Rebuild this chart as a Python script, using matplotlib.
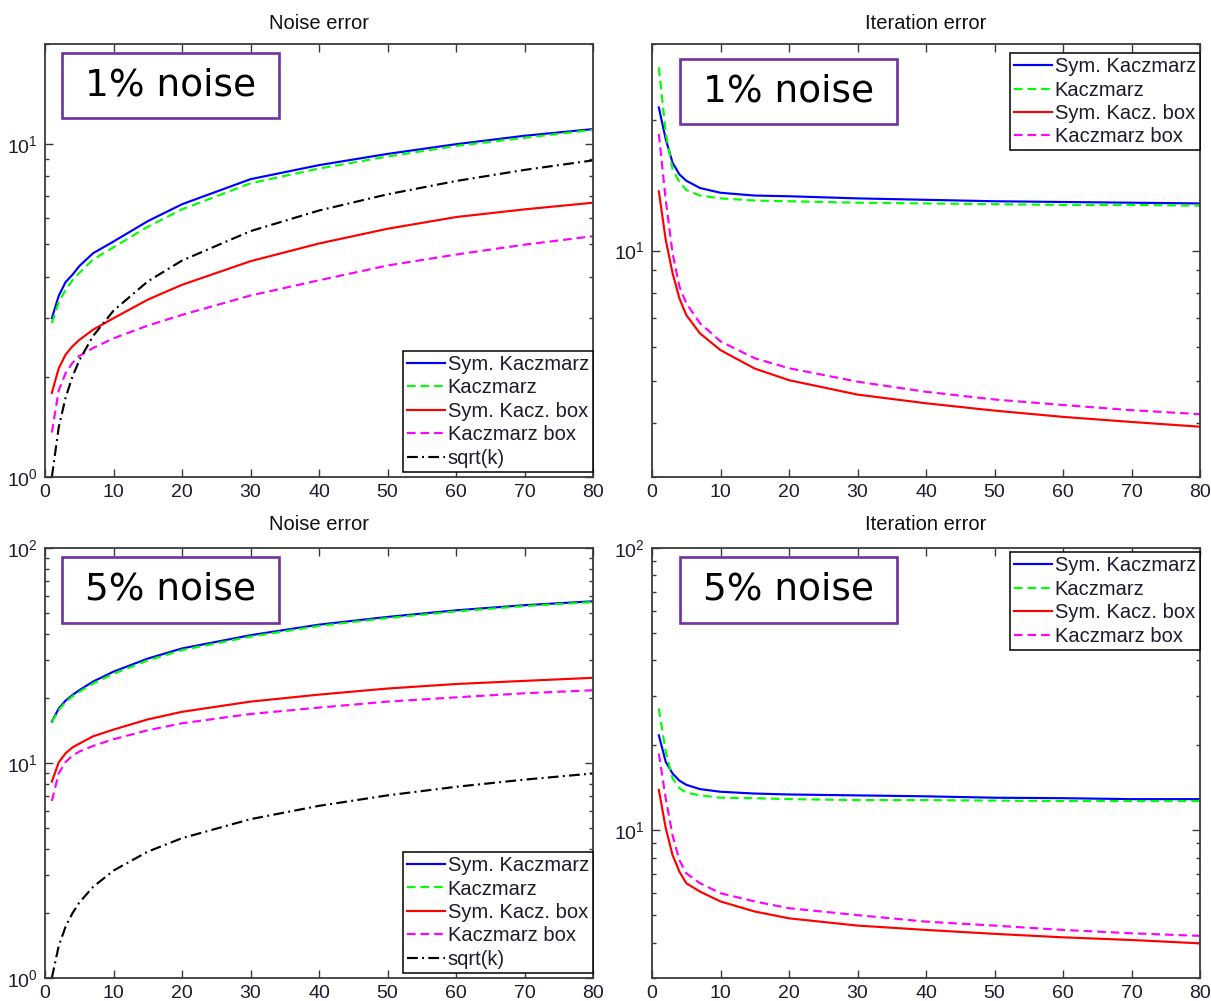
import matplotlib
matplotlib.use('Agg')
import matplotlib.pyplot as plt
from matplotlib.ticker import LogLocator, NullFormatter
from matplotlib.patches import Rectangle

plt.rcParams['font.family'] = ['Liberation Sans', 'DejaVu Sans']
plt.rcParams['mathtext.fontset'] = 'custom'
plt.rcParams['mathtext.rm'] = 'Liberation Sans'

# ---------------- data ----------------
k = [1, 2, 3, 4, 5, 7, 10, 15, 20, 30, 40, 50, 60, 70, 80]

# 1% noise, noise error
n1_sym = [3.0, 3.5, 3.85, 4.05, 4.3, 4.7, 5.1, 5.87, 6.6, 7.85, 8.65, 9.35, 10.0, 10.6, 11.1]
n1_kac = [2.9, 3.35, 3.65, 3.9, 4.1, 4.5, 4.9, 5.65, 6.37, 7.63, 8.45, 9.18, 9.88, 10.45, 11.04]
n1_symbox = [1.79, 2.12, 2.33, 2.47, 2.58, 2.77, 3.0, 3.41, 3.78, 4.45, 5.03, 5.57, 6.04, 6.37, 6.67]
n1_kacbox = [1.36, 1.82, 2.05, 2.2, 2.31, 2.44, 2.61, 2.85, 3.07, 3.51, 3.90, 4.32, 4.66, 4.99, 5.29]
sqrt_k = [1.0, 1.41, 1.73, 2.0, 2.24, 2.65, 3.16, 3.87, 4.47, 5.48, 6.32, 7.07, 7.75, 8.37, 8.94]

# 1% noise, iteration error
i1_sym = [21.4, 18.1, 15.96, 15.0, 14.5, 13.95, 13.6, 13.4, 13.35, 13.2, 13.1, 13.0, 12.95, 12.9, 12.85]
i1_kac = [26.5, 18.7, 15.4, 14.4, 13.8, 13.4, 13.2, 13.05, 13.0, 12.9, 12.85, 12.8, 12.75, 12.75, 12.7]
i1_symbox = [13.7, 10.6, 8.87, 7.76, 7.1, 6.44, 5.89, 5.34, 5.02, 4.65, 4.44, 4.27, 4.13, 4.02, 3.92]
i1_kacbox = [18.6, 13.1, 9.87, 8.26, 7.56, 6.8, 6.17, 5.64, 5.35, 4.98, 4.72, 4.53, 4.40, 4.28, 4.19]

# 5% noise, noise error
n5_sym = [15.6, 17.9, 19.5, 20.7, 21.8, 23.9, 26.6, 30.6, 34.1, 39.3, 44.0, 47.8, 51.3, 54.2, 56.5]
n5_kac = [15.5, 17.6, 19.2, 20.4, 21.4, 23.4, 26.0, 30.0, 33.5, 38.7, 43.4, 47.2, 50.7, 53.7, 56.0]
n5_symbox = [8.19, 10.07, 11.1, 11.8, 12.3, 13.3, 14.3, 15.95, 17.3, 19.3, 20.8, 22.2, 23.3, 24.1, 24.9]
n5_kacbox = [6.66, 8.95, 10.1, 10.8, 11.3, 12.0, 12.9, 14.2, 15.3, 16.9, 18.1, 19.3, 20.2, 21.1, 21.8]

# 5% noise, iteration error
i5_sym = [21.7, 17.5, 15.9, 15.0, 14.5, 14.0, 13.7, 13.5, 13.4, 13.3, 13.2, 13.05, 13.0, 12.9, 12.9]
i5_kac = [27.0, 19.0, 15.3, 14.1, 13.6, 13.3, 13.05, 13.0, 12.9, 12.8, 12.8, 12.75, 12.7, 12.7, 12.7]
i5_symbox = [13.9, 10.2, 8.18, 7.14, 6.50, 6.07, 5.60, 5.16, 4.88, 4.60, 4.44, 4.30, 4.18, 4.09, 3.98]
i5_kacbox = [18.7, 13.0, 9.6, 7.85, 7.05, 6.50, 5.99, 5.60, 5.30, 5.01, 4.75, 4.60, 4.44, 4.32, 4.23]

labels = ['Sym. Kaczmarz', 'Kaczmarz', 'Sym. Kacz. box', 'Kaczmarz box', 'sqrt(k)']
titles = ['Noise error', 'Iteration error']
box_texts = ['1% noise', '5% noise']
xticks = [0, 10, 20, 30, 40, 50, 60, 70, 80]

# ---------------- styling ----------------
W, H = 1211, 1001
fig = plt.figure(figsize=(W / 100, H / 100), dpi=100)
fig.patch.set_facecolor('white')

LW = 1.55
styles = [
    dict(color='#0000FF', linestyle='-'),
    dict(color='#00FF00', linestyle=(0, (4.0, 2.3))),
    dict(color='#FF0000', linestyle='-'),
    dict(color='#FF00FF', linestyle=(0, (4.0, 2.3))),
    dict(color='black', linestyle=(0, (5.0, 2.0, 0.9, 2.0))),
]
TXT = '#1c1c2c'
SPINE = '#3a3a3a'


def add_ax(x0, y0, x1, y1):
    return fig.add_axes([x0 / W, 1 - y1 / H, (x1 - x0) / W, (y1 - y0) / H])


def style_ax(ax, ylim, title, tpad):
    ax.set_yscale('log')
    ax.set_xlim(0, 80)
    ax.set_ylim(*ylim)
    ax.set_xticks(xticks)
    ax.xaxis.set_major_formatter(plt.FuncFormatter(lambda v, p: f'{int(v)}'))
    ax.yaxis.set_major_locator(LogLocator(base=10, subs=(1.0,)))
    ax.yaxis.set_minor_locator(LogLocator(base=10, subs=tuple(range(2, 10))))
    ax.yaxis.set_minor_formatter(NullFormatter())
    ax.tick_params(which='both', direction='in', top=True, right=True,
                   color=SPINE, width=1.0)
    ax.tick_params(which='major', length=5.5, labelsize=14, labelcolor=TXT)
    ax.tick_params(which='minor', length=3.0)
    ax.tick_params(axis='x', which='major', pad=5)
    ax.tick_params(axis='y', which='major', pad=5)
    for s in ax.spines.values():
        s.set_color(SPINE)
        s.set_linewidth(1.3)
    ax.set_title(title, fontsize=14.5, color='#111111', pad=tpad)


def add_box(ax, x0, y0, x1, y1, text):
    r = Rectangle((x0, y0), x1 - x0, y1 - y0, transform=ax.transAxes,
                  facecolor='white', edgecolor='#7030A0', linewidth=1.9,
                  zorder=10)
    ax.add_patch(r)
    ax.text((x0 + x1) / 2, (y0 + y1) / 2, text, transform=ax.transAxes,
            ha='center', va='center', fontsize=27, family='DejaVu Sans',
            color='black', zorder=11)


def add_legend(ax, loc, anchor):
    leg = ax.legend(loc=loc, bbox_to_anchor=anchor, borderaxespad=0,
                    fontsize=14.5, frameon=True, fancybox=False, framealpha=1,
                    edgecolor='black', handlelength=1.85, handletextpad=0.15,
                    labelspacing=0.22, borderpad=0.2)
    leg.get_frame().set_linewidth(1.1)
    for t in leg.get_texts():
        t.set_color(TXT)
    return leg


panels = [
    # (axes pixel box, ylim, title, series, box text, box coords, legend loc, legend anchor, title pad)
    ((45, 44, 593, 477), (1, 20), titles[0],
     [n1_sym, n1_kac, n1_symbox, n1_kacbox, sqrt_k], box_texts[0],
     (0.031, 0.829, 0.427, 0.979), 'lower right', (1.0, 0.012), 11),
    ((652, 44, 1200, 477), (3, 30), titles[1],
     [i1_sym, i1_kac, i1_symbox, i1_kacbox], box_texts[0],
     (0.051, 0.815, 0.447, 0.965), 'upper right', (1.0, 0.979), 11),
    ((45, 548, 593, 978), (1, 100), titles[0],
     [n5_sym, n5_kac, n5_symbox, n5_kacbox, sqrt_k], box_texts[1],
     (0.031, 0.826, 0.427, 0.979), 'lower right', (1.0, 0.012), 13),
    ((652, 548, 1200, 978), (3, 100), titles[1],
     [i5_sym, i5_kac, i5_symbox, i5_kacbox], box_texts[1],
     (0.051, 0.826, 0.447, 0.979), 'upper right', (1.0, 0.99), 13),
]

for (bx, ylim, title, series, btxt, bcoords, lloc, lanchor, tpad) in panels:
    ax = add_ax(*bx)
    for vals, lab, st in zip(series, labels, styles):
        ax.plot(k, vals, lw=LW, label=lab, **st)
    style_ax(ax, ylim, title, tpad)
    add_box(ax, *bcoords, btxt)
    add_legend(ax, lloc, lanchor)

fig.savefig('out.png', dpi=100, facecolor='white')
